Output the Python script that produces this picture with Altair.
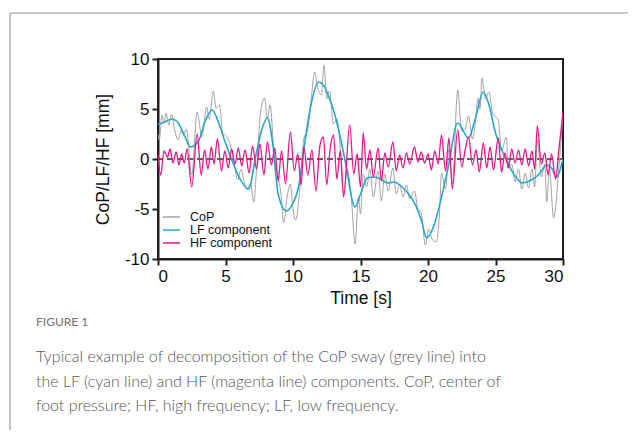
import altair as alt
import pandas as pd

# ---- data ----
lf_t = [0, 0.5, 1.0, 1.5, 2.0, 2.4, 3.0, 3.5, 4.0, 4.5, 5.0, 5.5, 6.0, 6.7, 7.3, 7.7, 8.1, 8.5, 8.9, 9.5,
        10.0, 10.5, 10.8, 11.3, 11.9, 12.3, 12.6, 13.0, 13.5, 13.85, 14.6, 15.0, 15.5, 16.0, 16.5, 17.0, 17.5,
        18.0, 18.5, 19.0, 19.5, 19.9, 20.5, 21.0, 21.5, 22.2, 23.0, 23.5, 24.1, 24.5, 25.0, 25.5, 25.8, 26.5,
        27.0, 27.5, 28.0, 28.3, 28.8, 29.2, 29.5, 30.0]
lf_v = [3.5, 3.7, 4.0, 3.6, 2.2, 1.2, 1.8, 3.8, 4.9, 3.6, 1.6, -0.2, -1.8, -3.0, 0.7, 3.0, 4.1, 1.5, -3.5, -5.2,
        -4.4, -2.2, 0.9, 5.2, 7.7, 7.3, 6.4, 4.9, 2.2, -0.1, -4.8, -3.5, -1.9, -1.8, -2.0, -2.4, -2.3,
        -2.7, -3.4, -4.4, -6.1, -7.9, -6.4, -3.8, -0.8, 3.6, 2.1, 4.0, 6.7, 5.5, 2.6, 0.8, -0.1, -1.8,
        -2.4, -2.2, -1.8, -1.4, -0.6, -1.0, -1.8, 0.0]

hf_t = [0.0, 0.2, 0.45, 0.7, 0.9, 1.1, 1.35, 1.55, 1.75, 1.95, 2.15, 2.5, 2.9, 3.2, 3.45, 3.7, 3.95, 4.15,
        4.4, 4.7, 4.95, 5.2, 5.45, 5.7, 5.95, 6.2, 6.45, 6.75, 7.0, 7.3, 7.55, 7.85, 8.1, 8.4, 8.65, 8.9,
        9.15, 9.45, 9.8, 10.1, 10.35, 10.6, 10.8, 11.1, 11.4, 11.7, 12.0, 12.25, 12.5, 12.75, 13.0, 13.25,
        13.5, 13.75, 14.2, 14.5, 14.75, 15.0, 15.2, 15.45, 15.7, 15.95, 16.3, 16.55, 16.8, 17.05, 17.4,
        17.65, 17.9, 18.15, 18.4, 18.65, 19.0, 19.25, 19.5, 19.75, 20.0, 20.25, 20.5, 20.75, 21.0, 21.3,
        21.55, 21.8, 22.2, 22.5, 22.75, 23.0, 23.3, 23.55, 23.8, 24.1, 24.35, 24.6, 24.85, 25.2, 25.45,
        25.7, 25.95, 26.2, 26.45, 26.7, 26.95, 27.2, 27.45, 27.7, 27.9, 28.1, 28.4, 28.65, 28.9, 29.15,
        29.45, 29.7, 30.0]
hf_v = [0.4, -1.6, 0.8, 0.2, 1.0, -0.4, 0.7, -0.6, 0.5, -0.4, 1.0, -2.8, 2.5, -1.6, 0.9, -1.0, 1.2, -0.5,
        2.0, -1.2, 0.8, -0.9, 1.0, -0.5, 1.1, -0.7, 0.9, -1.4, 1.3, -1.0, 1.5, -1.6, 1.7, -0.6, 1.1, -2.2,
        0.8, -2.5, 2.7, -1.2, 0.5, -2.6, 1.2, -1.6, 0.9, -3.2, 1.4, 2.2, -2.6, 1.0, 2.4, -2.0,
        0.8, -3.8, 3.4, -1.5, 0.5, -2.8, 2.6, -1.0, 0.9, -1.8, 1.1, -2.2, 0.6, -0.8, 1.7,
        -1.2, 0.4, -0.9, 0.6, -0.5, 1.2, -0.3, 0.7, -0.4, 0.5, -1.1, 0.8, -0.5, 2.4, -1.2,
        2.1, -3.0, 2.9, -0.8, 0.9, 2.2, -0.6, 0.9, -1.3, 1.6, -0.9, 1.2, -1.1, 2.1, -1.3,
        0.6, -0.9, 1.0, -0.4, 0.9, -0.6, 1.0, -0.7, 0.8, -1.0, 3.3, -0.5, 0.6, -1.6, 0.5,
        -2.0, 1.0, 4.7]

cop_t = [0.0, 0.1, 0.3, 0.45, 0.6, 0.8, 1.0, 1.25, 1.5, 1.7, 1.9, 2.1, 2.5, 2.9, 3.25, 3.6, 3.8, 4.1, 4.3,
         4.55, 4.8, 5.0, 5.3, 5.6, 5.9, 6.15, 6.4, 6.6, 6.85, 7.1, 7.3, 7.6, 7.9, 8.1, 8.3, 8.6, 8.9, 9.15,
         9.3, 9.6, 9.8, 10.0, 10.2, 10.5, 10.8, 11.1, 11.35, 11.6, 11.85, 12.1, 12.3, 12.5, 12.7, 13.0,
         13.25, 13.5, 13.75, 14.0, 14.3, 14.6, 14.85, 15.0, 15.2, 15.45, 15.7, 15.95, 16.3, 16.55, 16.8,
         17.05, 17.4, 17.65, 17.9, 18.15, 18.4, 18.65, 19.0, 19.25, 19.5, 19.8, 20.05, 20.3, 20.6, 20.85,
         21.0, 21.3, 21.55, 21.8, 22.2, 22.5, 22.75, 23.0, 23.3, 23.5, 23.7, 23.85, 24.0, 24.25, 24.5,
         24.8, 25.2, 25.45, 25.8, 25.95, 26.2, 26.45, 26.7, 26.95, 27.2, 27.45, 27.7, 27.9, 28.1, 28.4,
         28.65, 28.8, 29.0, 29.3, 29.7, 30.0]
cop_v = [2.5, 1.9, 4.4, 3.6, 4.6, 3.4, 4.5, 2.8, 1.9, 2.8, 2.4, 3.0, -1.6, 4.7, 2.2, 5.2, 4.0, 6.8, 5.1,
         5.4, 2.6, 2.4, 1.6, 0.0, -2.1, -1.0, -2.4, -3.1, -2.4, -4.3, -1.0, 4.7, 6.1, 4.0, 5.4, 0.5, -1.8,
         -4.0, -6.4, -3.5, -2.5, -5.0, -6.1, -3.0, 2.0, 3.0, 6.0, 8.7, 7.0, 6.4, 9.4, 6.0, 6.8, 3.5,
         4.0, 1.0, -3.6, -1.0, -3.5, -8.5, -3.8, -5.5, -1.5, -2.8, -1.0, -3.8, -1.2, -4.2, -1.5,
         -3.2, -0.9, -3.5, -2.5, -3.8, -2.6, -4.0, -3.2, -5.0, -5.4, -8.6, -7.0, -8.0, -8.3, -5.5,
         -1.4, -3.0, 1.0, -2.5, 6.9, 2.8, 3.0, 4.3, 2.0, 3.5, 6.1, 5.0, 8.1, 6.0, 6.7,
         4.5, 3.9, 0.8, 2.2, -0.9, -0.5, -2.3, -1.0, -3.0, -1.4, -2.9, -1.0, -2.8, 1.9, -1.8,
         -0.5, -4.3, -1.0, -5.9, -0.8, 4.5]

series_names = ["CoP", "LF component", "HF component"]
series_colors = ["#a3a3a3", "#27a6cc", "#e5168a"]

x_ticks = [0, 5, 10, 15, 20, 25, 30]
y_ticks = [-10, -5, 0, 5, 10]

caption_head = "FIGURE 1"
caption_lines = [
    "Typical example of decomposition of the CoP sway (grey line) into",
    "the LF (cyan line) and HF (magenta line) components. CoP, center of",
    "foot pressure; HF, high frequency; LF, low frequency.",
]

# ---- tables ----
cop_df = pd.DataFrame({"t": cop_t, "v": cop_v, "s": series_names[0]})
lf_df = pd.DataFrame({"t": lf_t, "v": lf_v, "s": series_names[1]})
hf_df = pd.DataFrame({"t": hf_t, "v": hf_v, "s": series_names[2]})

AX = "#231f20"
FONT = "Liberation Sans"

x_enc = alt.X("t:Q", scale=alt.Scale(domain=[0, 30], nice=False, zero=False),
              axis=alt.Axis(values=x_ticks, title="Time [s]", labelExpr="'' + datum.value"))
y_enc = alt.Y("v:Q", scale=alt.Scale(domain=[-10, 10], nice=False),
              axis=alt.Axis(values=y_ticks, title="CoP/LF/HF [mm]", labelExpr="'' + datum.value",
                            titleFontWeight=400))
color_enc = alt.Color(
    "s:N",
    scale=alt.Scale(domain=series_names, range=series_colors),
    legend=None,
)

def line(df, width, interp):
    return alt.Chart(df).mark_line(strokeWidth=width, interpolate=interp, clip=True).encode(
        x=x_enc, y=y_enc, color=color_enc
    )

zero = alt.Chart(pd.DataFrame({"v": [0]})).mark_rule(
    color="#2a2a2a", strokeDash=[6, 4], strokeWidth=1.5
).encode(y=alt.Y("v:Q", scale=alt.Scale(domain=[-10, 10], nice=False)))

cop_line = line(cop_df, 1.0, "monotone")
lf_line = line(lf_df, 1.6, "monotone")
hf_line = line(hf_df, 1.3, "monotone")

# legend drawn inside the plot (bottom-left)
legend_layers = []
for i, (name, col) in enumerate(zip(series_names, series_colors)):
    yy = 158 + 13 * i
    legend_layers.append(
        alt.Chart(pd.DataFrame({"a": [0]})).mark_rule(color=col, strokeWidth=1.5).encode(
            x=alt.value(5), x2=alt.value(22), y=alt.value(yy))
    )
    legend_layers.append(
        alt.Chart(pd.DataFrame({"txt": [name]})).mark_text(
            align="left", baseline="middle", font=FONT, fontSize=12.5, color="#111"
        ).encode(text="txt:N", x=alt.value(32), y=alt.value(yy))
    )

# outer frame (decorative) and caption
frame_top = alt.Chart(pd.DataFrame({"a": [0]})).mark_rule(color="#9a9a9a", strokeWidth=1.2).encode(
    x=alt.value(-148), x2=alt.value(470), y=alt.value(-46))
frame_left = alt.Chart(pd.DataFrame({"a": [0]})).mark_rule(color="#9a9a9a", strokeWidth=1.2).encode(
    x=alt.value(-148), y=alt.value(-46), y2=alt.value(371))

head = alt.Chart(pd.DataFrame({"txt": [caption_head]})).mark_text(
    align="left", baseline="middle", font="Lato", fontSize=12, color="#707070"
).encode(text="txt:N", x=alt.value(-122), y=alt.value(263))

cap_layers = []
for i, txt in enumerate(caption_lines):
    cap_layers.append(
        alt.Chart(pd.DataFrame({"txt": [txt]})).mark_text(
            align="left", baseline="middle", font="Lato", fontWeight=300, fontSize=16, color="#555555"
        ).encode(text="txt:N", x=alt.value(-122), y=alt.value(298 + 24.5 * i))
    )

chart = alt.layer(zero, cop_line, lf_line, hf_line, *legend_layers, frame_top, frame_left, head,
                  *cap_layers).properties(
    width=405, height=200,
    autosize=alt.AutoSizeParams(type="none"),
    padding={"left": 150, "top": 51, "right": 73, "bottom": 179},
).configure_view(
    stroke=AX, strokeWidth=2
).configure_axis(
    domainColor=AX, domainWidth=2, tickColor=AX, tickWidth=2, tickSize=6,
    labelFont=FONT, labelFontSize=17, labelColor="#111", labelPadding=3,
    titleFont=FONT, titleFontSize=17.5, titleColor="#111", titleFontWeight=400,
    grid=False,
).configure_axisY(titlePadding=12, titleFontWeight=400).configure_axisX(titlePadding=5)

chart.save("out.html", embed_options={"renderer": "svg", "actions": False})
